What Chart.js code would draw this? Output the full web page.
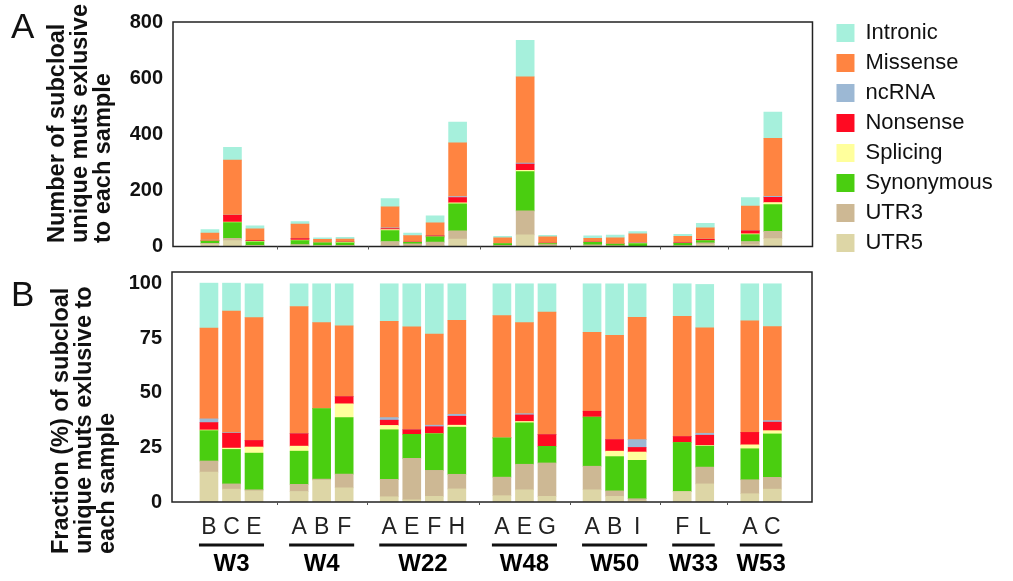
<!DOCTYPE html>
<html>
<head>
<meta charset="utf-8">
<script src="https://cdn.jsdelivr.net/npm/chart.js@4.4.1/dist/chart.umd.min.js"></script>
<style>
  html, body { margin: 0; padding: 0; background: #fff; }
  #wrap { position: relative; width: 1013px; height: 581px; overflow: hidden; }
  #wrap canvas { position: absolute; left: 0; }
  #cA { top: 0; }
  #cB { top: 250px; }
</style>
</head>
<body>
<div id="wrap">
  <canvas id="cA" width="1013" height="270"></canvas>
  <canvas id="cB" width="1013" height="331"></canvas>
</div>
<script>
// samples, grouped by patient
var groups = ['W3', 'W4', 'W22', 'W48', 'W50', 'W33', 'W53'];
var samples = [['B', 'C', 'E'], ['A', 'B', 'F'], ['A', 'E', 'F', 'H'], ['A', 'E', 'G'], ['A', 'B', 'I'], ['F', 'L'], ['A', 'C']];

// panel A: total number of subclonal unique muts per sample
var totals = [60, 352, 74, 89, 31, 33, 171, 48, 109, 443, 36, 735, 40, 38, 41, 53, 43, 83, 174, 479];

// panel B: share (%) of each class, same sample order
var utr5       = [13.7, 5.9, 5.1, 4.8, 10.0, 6.5, 2.4, 1.0, 2.6, 6.0, 2.9, 5.6, 2.6, 5.6, 2.6, 0.5, 4.8, 8.3, 3.8, 5.9];
var utr3       = [5.1, 2.4, 0.5, 3.3, 0.5, 6.3, 8.0, 19.0, 11.9, 6.7, 8.5, 11.7, 15.3, 10.8, 2.5, 1.0, 0, 7.7, 6.4, 5.4];
var synonymous = [13.9, 15.8, 16.8, 15.2, 32.3, 25.9, 22.7, 11.0, 16.8, 21.6, 18.0, 19.0, 7.6, 22.5, 15.7, 17.6, 22.5, 9.6, 14.2, 19.9];
var splicing   = [0.3, 0.6, 2.8, 2.3, 0, 6.3, 2.0, 0, 0, 0.9, 0, 0.6, 0, 0, 2.5, 3.8, 0, 0.3, 1.8, 1.5];
var nonsense   = [3.4, 6.8, 3.0, 5.7, 0, 3.3, 2.4, 2.1, 3.2, 4.1, 0, 3.0, 5.4, 2.7, 5.3, 2.1, 2.7, 4.7, 5.7, 3.9];
var ncrna      = [1.7, 0.3, 0, 0, 0, 0, 1.2, 0, 0.7, 0.9, 0, 0.6, 0, 0, 0, 3.6, 0, 0.9, 0, 0.7];
var missense   = [41.6, 55.7, 56.3, 58.3, 39.4, 32.4, 44.1, 47.2, 41.8, 43.1, 56.0, 41.7, 56.1, 36.1, 47.8, 56.0, 55.1, 48.3, 51.1, 43.1];
var intronic   = [20.6, 12.8, 15.5, 10.4, 17.8, 19.3, 17.2, 19.7, 23.0, 16.7, 14.6, 17.8, 13.0, 22.3, 23.6, 15.4, 14.9, 19.9, 17.0, 19.6];

var categories = ['UTR5', 'UTR3', 'Synonymous', 'Splicing', 'Nonsense', 'ncRNA', 'Missense', 'Intronic'];
var shares = [utr5, utr3, synonymous, splicing, nonsense, ncrna, missense, intronic];
var colors = ['#DDD6A6', '#CDB894', '#4ACE10', '#FFFF9C', '#FF0A22', '#9CB8D4', '#FF8441', '#A6F0DC'];

var countTicks = [0, 200, 400, 600, 800];
var pctTicks = [0, 25, 50, 75, 100];

var FONT = '"Liberation Sans", Arial, Helvetica, sans-serif';
Chart.defaults.font.family = FONT;
Chart.defaults.color = '#111';

// one empty slot between groups on the x axis
var slots = [], slotLabel = {}, groupSpans = [], gapSlots = [];
var s = 0;
samples.forEach(function (list, g) {
  if (g > 0) { gapSlots.push(s); s++; }
  groupSpans.push({ from: s, to: s + list.length - 1, name: groups[g] });
  list.forEach(function (l) { slotLabel[s] = l; slots.push(s); s++; });
});
var xMin = -0.93, xMax = s + 0.05;

function makeSets(asPct) {
  return categories.map(function (name, k) {
    return {
      label: name,
      backgroundColor: colors[k],
      borderWidth: 0,
      barThickness: 18,
      // counts in panel A = sample total x class share
      data: shares[k].map(function (p, i) {
        return { x: slots[i], y: asPct ? p : totals[i] * p / 100 };
      })
    };
  });
}

// frame round the plot area + small marks between groups
var frame = {
  id: 'frame',
  afterDatasetsDraw: function (chart) {
    var a = chart.chartArea, ctx = chart.ctx, x = chart.scales.x;
    ctx.save();
    ctx.strokeStyle = '#222';
    ctx.lineWidth = 1.5;
    ctx.strokeRect(a.left, a.top, a.right - a.left, a.bottom - a.top);
    ctx.lineWidth = 1;
    ctx.strokeStyle = '#555';
    gapSlots.forEach(function (g) {
      var px = Math.round(x.getPixelForValue(g)) + 0.5;
      ctx.beginPath();
      ctx.moveTo(px, a.bottom);
      ctx.lineTo(px, a.bottom + 3);
      ctx.stroke();
    });
    ctx.restore();
  }
};

// rotated multi-line axis title and panel letter
function sideText(cfg) {
  return {
    id: 'sideText',
    afterDraw: function (chart) {
      var ctx = chart.ctx;
      ctx.save();
      ctx.fillStyle = '#111';
      ctx.font = 'bold 23.5px ' + FONT;
      ctx.textAlign = 'left';
      ctx.textBaseline = 'middle';
      cfg.lines.forEach(function (line, i) {
        ctx.save();
        ctx.translate(cfg.x0 + i * cfg.step, cfg.bottom);
        ctx.rotate(-Math.PI / 2);
        ctx.fillText(line, 0, 0);
        ctx.restore();
      });
      ctx.font = '35px ' + FONT;
      ctx.textBaseline = 'alphabetic';
      ctx.fillText(cfg.letter, 11, cfg.letterY);
      ctx.restore();
    }
  };
}

// group names under underlined sample letters
var groupLabels = {
  id: 'groupLabels',
  afterDraw: function (chart) {
    var ctx = chart.ctx, x = chart.scales.x, b = chart.chartArea.bottom;
    ctx.save();
    ctx.strokeStyle = '#111';
    ctx.fillStyle = '#000';
    ctx.lineWidth = 3;
    ctx.font = 'bold 24px ' + FONT;
    ctx.textAlign = 'center';
    ctx.textBaseline = 'middle';
    groupSpans.forEach(function (gs) {
      var x1 = x.getPixelForValue(gs.from) - 10, x2 = x.getPixelForValue(gs.to) + 10;
      ctx.beginPath();
      ctx.moveTo(x1, b + 43);
      ctx.lineTo(x2, b + 43);
      ctx.stroke();
      ctx.fillText(gs.name, (x1 + x2) / 2, b + 62);
    });
    ctx.restore();
  }
};

function xScale(showLabels, height) {
  return {
    type: 'linear', min: xMin, max: xMax, stacked: true,
    grid: { display: false, drawTicks: false },
    border: { display: false },
    afterBuildTicks: function (sc) { sc.ticks = slots.map(function (v) { return { value: v }; }); },
    ticks: {
      display: showLabels, autoSkip: false, maxRotation: 0, padding: 12,
      color: '#222', font: { size: 23 },
      callback: function (v) { return slotLabel[v] || ''; }
    },
    afterFit: function (sc) { sc.height = height; }
  };
}

function yScale(max, tickList, width) {
  return {
    type: 'linear', min: 0, max: max, stacked: true,
    grid: { display: false, drawTicks: false },
    border: { display: false },
    afterBuildTicks: function (sc) { sc.ticks = tickList.map(function (v) { return { value: v }; }); },
    ticks: { padding: 10, color: '#111', font: { size: 20, weight: 'bold' } },
    afterFit: function (sc) { sc.width = width; }
  };
}

// legend width, so the plot area ends where the reference's does
var mctx = document.createElement('canvas').getContext('2d');
mctx.font = '22px ' + FONT;
var textW = Math.max.apply(null, categories.map(function (c) { return mctx.measureText(c).width; }));
var legendW = 8 + 18 + 11 + textW;
var padRight = Math.max(0, 1013 - 814 - 16 - legendW);

new Chart(document.getElementById('cA'), {
  type: 'bar',
  data: { datasets: makeSets(false) },
  options: {
    responsive: false, animation: false, devicePixelRatio: 1,
    layout: { padding: { top: 14, right: padRight, bottom: 0, left: 0 } },
    scales: {
      x: xScale(false, 23.5),
      y: yScale(800, countTicks, 173),
      gap: {
        type: 'linear', position: 'right', display: true,
        grid: { display: false, drawTicks: false }, border: { display: false },
        ticks: { display: false },
        afterFit: function (sc) { sc.width = 16; }
      }
    },
    plugins: {
      tooltip: { enabled: false },
      legend: {
        position: 'right', align: 'start', reverse: true,
        labels: { boxWidth: 18, boxHeight: 18, padding: 8, color: '#111', font: { size: 22 } }
      }
    }
  },
  plugins: [frame, sideText({
    lines: ['Number of subcloal', 'unique muts exlusive', 'to each sample'],
    x0: 58, step: 23, bottom: 243, letter: 'A', letterY: 38
  })]
});

new Chart(document.getElementById('cB'), {
  type: 'bar',
  data: { datasets: makeSets(true) },
  options: {
    responsive: false, animation: false, devicePixelRatio: 1,
    layout: { padding: { top: 19, right: 201, bottom: 0, left: 0 } },
    scales: {
      x: xScale(true, 79),
      y: yScale(105.4, pctTicks, 172)
    },
    plugins: { tooltip: { enabled: false }, legend: { display: false } }
  },
  plugins: [frame, groupLabels, sideText({
    lines: ['Fraction (%) of subcloal', 'unique muts exlusive to', 'each sample'],
    x0: 62, step: 23, bottom: 304, letter: 'B', letterY: 56
  })]
});
</script>
</body>
</html>
